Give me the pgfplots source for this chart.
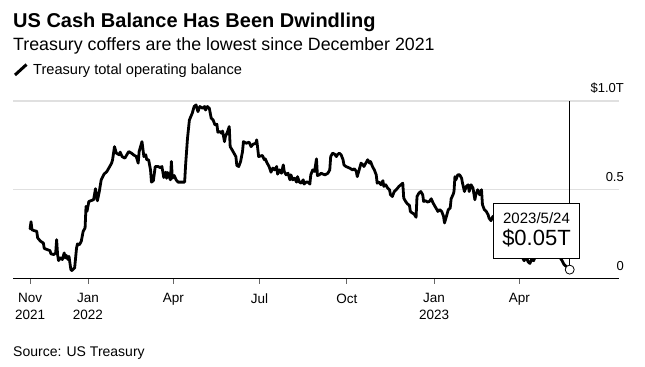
\documentclass[border=0pt]{standalone}
\usepackage{fontspec}
\setmainfont{Liberation Sans}
\usepackage{pgfplots}
\pgfplotsset{compat=1.18}
\definecolor{gridgray}{HTML}{E0E0E0}
\definecolor{tickgray}{HTML}{666666}
\begin{document}
\begin{tikzpicture}[x=1bp,y=1bp]
\useasboundingbox (0,0) rectangle (645,366);
\begin{axis}[
  scale only axis, width=606bp, height=177.5bp,
  at={(13bp,87.5bp)}, anchor=south west,
  xmin=-18, xmax=621, ymin=0, ymax=1,
  axis x line*=bottom, axis y line*=right,
  x axis line style={black, line width=0.8bp, -},
  y axis line style={draw=none},
  xtick={0,61,151,242,334,426,516},
  xticklabels={Nov\\2021, Jan\\2022, Apr, Jul, Oct, Jan\\2023, Apr},
  xticklabel style={align=center, anchor=north, inner sep=0pt, text=black, yshift=-10bp,
    font=\fontsize{13.5bp}{17bp}\selectfont},
  x tick style={draw=tickgray, line width=0.8bp},
  major tick length=5bp, tick align=outside,
  ytick={0,0.5,1}, yticklabels={0,0.5,\$1.0T},
  y tick style={draw=none},
  yticklabel style={anchor=base east, inner sep=0pt, yshift=8.5bp, text=black,
    font=\fontsize{13bp}{15bp}\selectfont},
  /pgf/number format/assume math mode=true,
  ymajorgrids, grid style={draw=gridgray, line width=1.2bp},
  clip=false,
]
\addplot[black, line width=0.7bp] coordinates {(569,0.05) (569,1.0)};
\addplot[black, line width=2.8bp, line join=round, line cap=round] coordinates {
(0,0.28) (1,0.32) (2,0.275) (4,0.27) (7,0.266) (8,0.229) (11,0.21) (14,0.20)
(15,0.169) (18,0.163) (21,0.157) (22,0.139) (25,0.135) (27,0.144) (28,0.219)
(29,0.135) (30,0.101) (32,0.116) (34,0.107) (36,0.144) (37,0.116) (38,0.131)
(40,0.107) (41,0.125) (43,0.051) (44,0.045) (47,0.06) (49,0.172) (50,0.195)
(52,0.19) (54,0.21) (56,0.266) (58,0.285) (59,0.406) (60,0.378) (62,0.434)
(64,0.438) (67,0.444) (69,0.506) (70,0.462) (71,0.438) (73,0.49) (75,0.556)
(78,0.588) (81,0.603) (84,0.631) (86,0.65) (87,0.669) (89,0.743) (91,0.706)
(94,0.697) (95,0.712) (97,0.687) (100,0.678) (102,0.697) (104,0.715) (107,0.706)
(109,0.697) (112,0.687) (114,0.65) (115,0.715) (118,0.771) (120,0.687) (122,0.697)
(123,0.669) (125,0.669) (127,0.612) (128,0.543) (130,0.551) (132,0.631) (135,0.631)
(137,0.625) (139,0.631) (141,0.569) (143,0.599) (144,0.565) (145,0.597) (148,0.556)
(149,0.659) (150,0.565) (152,0.58) (154,0.556) (156,0.543) (158,0.543) (160,0.543)
(163,0.543) (164,0.64) (166,0.79) (168,0.893) (171,0.931) (173,0.969) (175,0.978)
(177,0.94) (179,0.969) (182,0.959) (184,0.969) (185,0.949) (187,0.969) (189,0.959)
(191,0.903) (193,0.893) (195,0.865) (197,0.869) (198,0.824) (200,0.828) (202,0.818)
(203,0.831) (205,0.771) (206,0.8) (208,0.824) (210,0.856) (211,0.743) (213,0.725)
(215,0.706) (217,0.687) (218,0.637) (220,0.631) (222,0.659) (224,0.715) (225,0.771)
(228,0.762) (231,0.768) (233,0.743) (235,0.756) (238,0.762) (239,0.781) (241,0.687)
(243,0.69) (245,0.693) (247,0.669) (248,0.674) (250,0.65) (252,0.631) (254,0.599)
(256,0.622) (258,0.612) (260,0.631) (261,0.588) (263,0.612) (265,0.593) (267,0.64)
(268,0.603) (270,0.584) (272,0.593) (274,0.556) (275,0.584) (277,0.556) (279,0.565)
(281,0.543) (282,0.574) (284,0.543) (286,0.537) (288,0.556) (289,0.532) (291,0.543)
(293,0.543) (295,0.532) (296,0.584) (298,0.612) (300,0.603) (302,0.674) (303,0.58)
(305,0.584) (307,0.593) (309,0.588) (311,0.584) (314,0.593) (316,0.612) (317,0.687)
(319,0.706) (321,0.701) (323,0.687) (324,0.697) (326,0.706) (328,0.697) (330,0.669)
(331,0.64) (333,0.631) (337,0.622) (340,0.612) (342,0.618) (344,0.603) (345,0.574)
(347,0.612) (349,0.65) (351,0.64) (352,0.631) (354,0.65) (356,0.669) (358,0.65)
(359,0.659) (361,0.631) (363,0.612) (365,0.584) (366,0.537) (368,0.543) (370,0.528)
(372,0.551) (373,0.519) (375,0.528) (377,0.51) (379,0.5) (380,0.472) (382,0.462)
(384,0.49) (386,0.5) (387,0.506) (389,0.519) (391,0.528) (393,0.537) (394,0.453)
(396,0.434) (398,0.42) (400,0.412) (401,0.378) (403,0.369) (405,0.363) (407,0.345)
(408,0.462) (410,0.481) (412,0.49) (414,0.472) (415,0.434) (417,0.438) (419,0.431)
(421,0.434) (423,0.449) (425,0.425) (427,0.406) (429,0.388) (430,0.378) (432,0.388)
(434,0.378) (436,0.35) (437,0.313) (439,0.35) (441,0.388) (443,0.397) (444,0.45)
(446,0.472) (447,0.49) (448,0.574) (449,0.556) (451,0.584) (453,0.584) (455,0.565)
(456,0.537) (458,0.49) (460,0.519) (462,0.528) (463,0.49) (465,0.528) (467,0.51)
(469,0.444) (470,0.472) (472,0.5) (474,0.472) (476,0.5) (477,0.416) (479,0.388)
(481,0.378) (483,0.359) (484,0.34) (486,0.326) (488,0.35) (490,0.33) (493,0.3)
(496,0.28) (499,0.25) (502,0.24) (505,0.22) (508,0.2) (511,0.19) (514,0.17)
(517,0.14) (519,0.12) (521,0.10) (523,0.13) (525,0.095) (527,0.085) (529,0.11)
(531,0.10) (533,0.13) (536,0.18) (539,0.25) (542,0.30) (545,0.28) (548,0.25)
(551,0.21) (554,0.17) (557,0.13) (559,0.116) (561,0.10) (563,0.079) (566,0.065)
(569,0.05)
};
\addplot[only marks, mark=*, mark size=4.5bp, mark options={fill=white, draw=black, line width=0.8bp}] coordinates {(569,0.05)};
\end{axis}
% tooltip
\draw[black, line width=0.8bp, fill=white] (493.3,107.7) rectangle (579.3,162.7);
\node[anchor=base, inner sep=0pt, font=\fontsize{15bp}{17bp}\selectfont] at (536.5,143) {2023/5/24};
\node[anchor=base, inner sep=0pt, font=\fontsize{22bp}{24bp}\selectfont] at (536.5,120.7) {\$0.05T};
% titles
\node[anchor=base west, inner sep=0pt, font=\fontsize{20bp}{22bp}\selectfont\bfseries] at (13,339) {US Cash Balance Has Been Dwindling};
\node[anchor=base west, inner sep=0pt, font=\fontsize{17.8bp}{20bp}\selectfont] at (13,316) {Treasury coffers are the lowest since December 2021};
\draw[black, line width=3bp] (15,291) -- (26.5,301.5);
\node[anchor=base west, inner sep=0pt, font=\fontsize{14.6bp}{16bp}\selectfont] at (33,292) {Treasury total operating balance};
\node[anchor=base west, inner sep=0pt, font=\fontsize{14bp}{16bp}\selectfont] at (13,10) {Source: US Treasury};
\end{tikzpicture}
\end{document}
